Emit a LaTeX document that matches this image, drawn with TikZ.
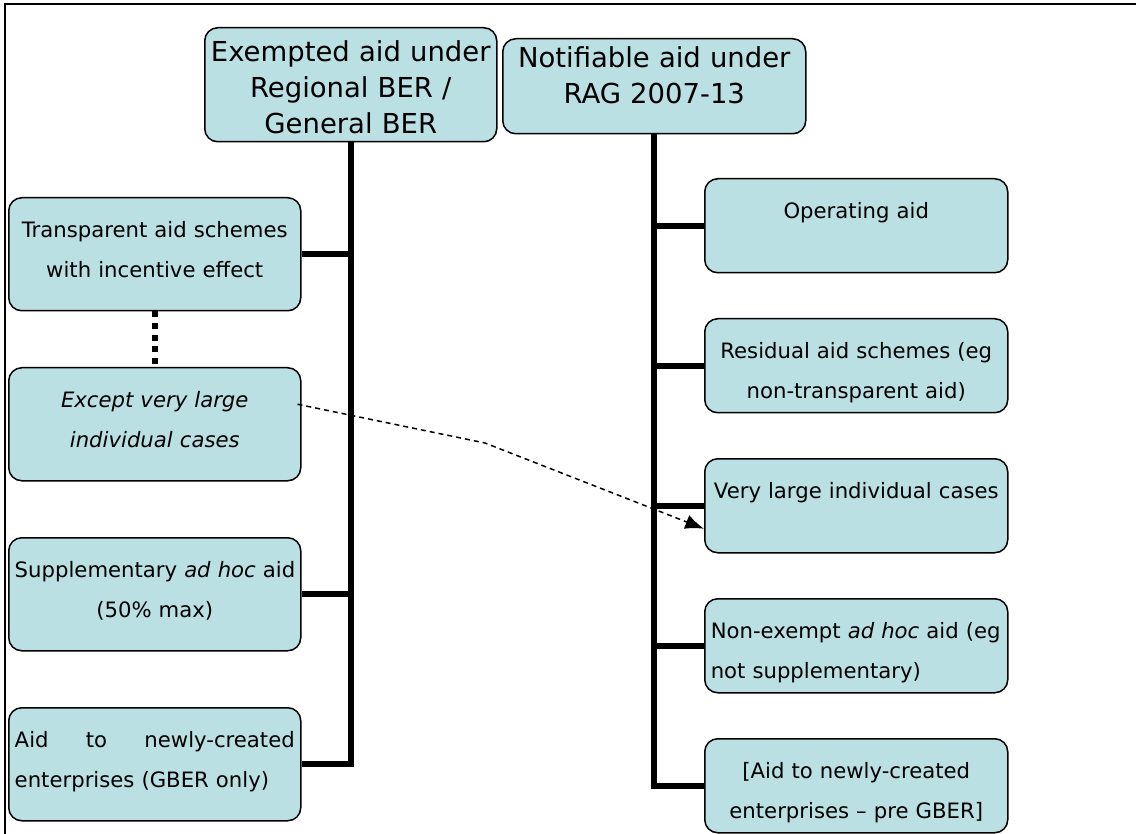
\documentclass[tikz,border=0pt]{standalone}
\usepackage{fontspec}
\setmainfont{DejaVu Sans}
\usetikzlibrary{arrows.meta,calc}
\newlength\px
\setlength\px{0.75pt}
\definecolor{boxfill}{RGB}{186,224,227}
\begin{document}
\begin{tikzpicture}[x=0.75pt,y=-0.75pt,
  box/.style={draw=black, line width=1.5\px, fill=boxfill, rounded corners=13\px, inner sep=0pt, anchor=north west},
  lbox/.style={box, minimum width=292\px, minimum height=113\px},
  rbox/.style={box, minimum width=303\px, minimum height=94\px},
  bodytxt/.style={inner sep=0pt, anchor=north, font=\fontsize{15.9}{30}\selectfont, text width=#1},
  headtxt/.style={inner sep=0pt, anchor=north, font=\fontsize{20.6}{27}\selectfont, text width=#1, align=center},
  tree/.style={line width=6\px},
  dotline/.style={line width=6\px, dash pattern=on 6\px off 5.6\px},
  dashline/.style={line width=1.5\px, dash pattern=on 5\px off 4\px, -{Latex[length=14pt,width=11pt]}},
  frame/.style={line width=2\px}
]
\useasboundingbox (0,0) rectangle (1136,834);
% frame
\coordinate (ftl) at (5,4);
\coordinate (ftr) at (1136,4);
\coordinate (fbl) at (5,834);
\draw[frame] (fbl) -- (ftl) -- (ftr);

% header boxes
\node[box, minimum width=292\px, minimum height=114\px] (a) at (204,27) {};
\node[headtxt=290\px] (at) at (a.north) {\rule{0pt}{34\px}\mbox{Exempted aid under}\\\mbox{Regional BER /}\\\mbox{General BER}};
\node[box, minimum width=303\px, minimum height=95\px] (b) at (502,38) {};
\node[headtxt=300\px] (bt) at (b.north) {\rule{0pt}{29\px}\mbox{Notifiable aid under}\\\mbox{RAG 2007-13}};

% left boxes
\node[lbox] (l1) at (8,197) {};
\node[bodytxt=280\px, align=center] (l1t) at (l1.north) {\rule{0pt}{40\px}\mbox{Transparent aid schemes}\\\mbox{with incentive effect}};
\node[lbox] (l2) at (8,367) {};
\node[bodytxt=280\px, align=center] (l2t) at (l2.north) {\rule{0pt}{40\px}\mbox{\itshape Except very large}\\\mbox{\itshape individual cases}};
\node[lbox] (l3) at (8,537) {};
\node[bodytxt=280\px, align=center] (l3t) at (l3.north) {\rule{0pt}{40\px}\mbox{Supplementary \textit{ad hoc} aid}\\\mbox{(50\% max)}};
\node[lbox] (l4) at (8,707) {};
\node[bodytxt=280\px, align=left] (l4t) at (l4.north) {\rule{0pt}{40\px}\makebox[280\px][s]{Aid\hfill to\hfill newly-created}\\\mbox{enterprises (GBER only)}};

% right boxes
\node[rbox] (r1) at (704,178) {};
\node[bodytxt=291\px, align=center] (r1t) at (r1.north) {\rule{0pt}{40\px}\mbox{Operating aid}};
\node[rbox] (r2) at (704,318) {};
\node[bodytxt=291\px, align=center] (r2t) at (r2.north) {\rule{0pt}{40\px}\mbox{Residual aid schemes (eg}\\\mbox{non-transparent aid)}};
\node[rbox] (r3) at (704,458) {};
\node[bodytxt=291\px, align=center] (r3t) at (r3.north) {\rule{0pt}{40\px}\mbox{Very large individual cases}};
\node[rbox] (r4) at (704,598) {};
\node[bodytxt=291\px, align=left] (r4t) at (r4.north) {\rule{0pt}{40\px}\mbox{Non-exempt \textit{ad hoc} aid (eg}\\\mbox{not supplementary)}};
\node[rbox] (r5) at (704,738) {};
\node[bodytxt=291\px, align=center] (r5t) at (r5.north) {\rule{0pt}{40\px}\mbox{[Aid to newly-created}\\\mbox{enterprises -- pre GBER]}};

% left tree
\draw[tree] (a.south) |- (l4.east);
\draw[tree] (l1.east) -- (l1.east -| a.south);
\draw[tree] (l3.east) -- (l3.east -| a.south);

% right tree
\draw[tree] (b.south) |- (r5.west);
\draw[tree] (r1.west) -- (r1.west -| b.south);
\draw[tree] (r2.west) -- (r2.west -| b.south);
\draw[tree] (r3.west) -- (r3.west -| b.south);
\draw[tree] (r4.west) -- (r4.west -| b.south);

% dotted link
\draw[dotline] (l1.south) -- (l2.north);

% dashed arrow
\coordinate (ds) at ($(l2.east)+(-4,-20)$);
\coordinate (dm) at (485,443);
\coordinate (de) at ($(r3.west)+(0,23)$);
\draw[dashline] (ds) -- (dm) -- (de);
\end{tikzpicture}
\end{document}
